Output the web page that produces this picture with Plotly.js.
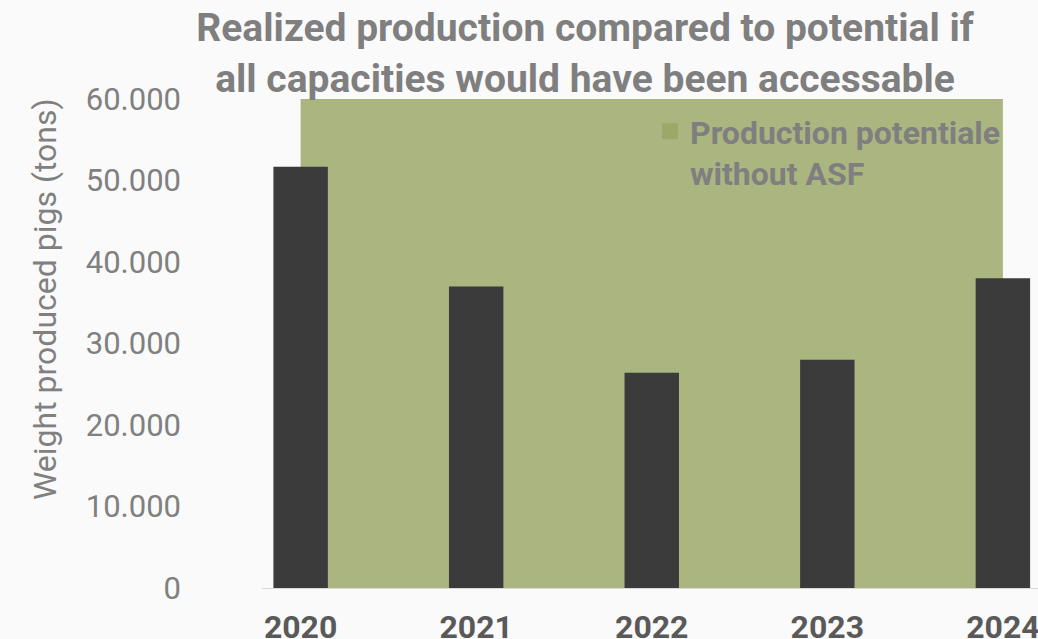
<!DOCTYPE html>
<html><head><meta charset="utf-8">
<script src="https://cdn.plot.ly/plotly-3.0.1.min.js"></script>
<style>html,body{margin:0;padding:0;background:#fafafa;}#chart{width:1038px;height:639px;}</style>
</head><body><div id="chart"></div>
<script>
const years = ['2020', '2021', '2022', '2023', '2024'];
const realized = [51700, 37000, 26400, 28000, 38000];
const potential = [60000, 60000, 60000, 60000, 60000];
const potentialName = 'Production potentiale<br>without ASF';
const titleText = 'Realized production compared to potential if<br>all capacities would have been accessable';
const yTitle = 'Weight produced pigs (tons)';

const xr = [-0.22, 4.2];
const yr = [0, 60000];

const traces = [
  {type: 'scatter', x: years, y: potential, mode: 'none', fill: 'tozeroy',
   fillcolor: '#aab57f', showlegend: false, hoverinfo: 'skip', xaxis: 'x', yaxis: 'y'},
  {type: 'scatter', x: [null], y: [null], mode: 'markers', name: potentialName,
   marker: {symbol: 'square', size: 16, color: '#9ba86a'}, showlegend: true, xaxis: 'x', yaxis: 'y'},
  {type: 'bar', x: years, y: realized, width: 0.31, marker: {color: '#3b3b3b'},
   showlegend: false, xaxis: 'x2', yaxis: 'y2'}
];

const layout = {
  width: 1038, height: 639,
  paper_bgcolor: '#fafafa', plot_bgcolor: '#fafafa',
  margin: {l: 262, r: 0, t: 99, b: 51},
  separators: ',.',
  font: {family: 'Roboto', color: '#7f7f7f'},
  title: {text: titleText, x: 0.5636, xref: 'container', xanchor: 'center',
          y: 0.936, yref: 'container', yanchor: 'top',
          font: {family: 'Roboto', size: 39, weight: 'bold', color: '#7f7f7f'}},
  xaxis: {type: 'category', range: xr, showgrid: false, zeroline: false,
          showline: true, linecolor: '#d9d9d9', linewidth: 1, ticks: '',
          ticklabelstandoff: 11,
          tickfont: {family: 'Roboto', size: 32, weight: 'bold', color: '#595959'}},
  yaxis: {range: yr, showgrid: false, zeroline: false, showline: false, ticks: '',
          tickformat: ',', dtick: 10000, ticklabelstandoff: 80,
          tickfont: {family: 'Roboto', size: 31, color: '#808080'}},
  xaxis2: {type: 'category', range: xr, overlaying: 'x', visible: false},
  yaxis2: {range: yr, overlaying: 'y', visible: false},
  annotations: [{text: yTitle, xref: 'paper', yref: 'paper', x: -0.2796, y: 0.591,
                 xanchor: 'center', yanchor: 'middle', textangle: -90, showarrow: false,
                 font: {family: 'Roboto', size: 32, color: '#808080'}}],
  legend: {x: 0.5, y: 0.99, xanchor: 'left', yanchor: 'top', bgcolor: 'rgba(0,0,0,0)',
           valign: 'top',
           font: {family: 'Roboto', size: 32, weight: 'bold', color: '#7f7f7f'},
           itemwidth: 30, tracegroupgap: 0}
};

Plotly.newPlot('chart', traces, layout, {displayModeBar: false, staticPlot: true});
</script></body></html>
